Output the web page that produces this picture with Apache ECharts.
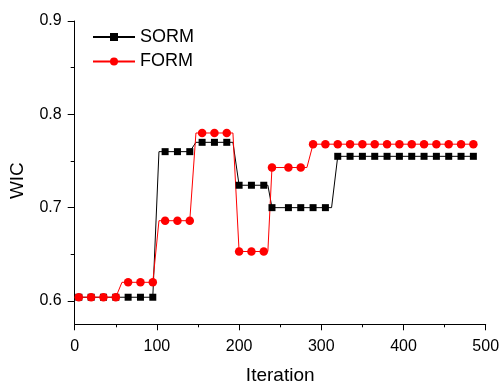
<!DOCTYPE html>
<html>
<head>
<meta charset="utf-8">
<script src="https://cdn.jsdelivr.net/npm/echarts@6/dist/echarts.min.js"></script>
<style>html,body{margin:0;padding:0;background:#fff;}#c{width:501px;height:384px;}</style>
</head>
<body>
<div id="c"></div>
<script>
// Iterations where markers are drawn
const markerIterations = [5,20,35,50,65,80,95,110,125,140,155,170,185,200,215,230,240,260,275,290,305,320,335,350,365,380,395,410,425,440,455,470,485];
// WIC values at the marker iterations
const sormValues = [0.604,0.604,0.604,0.604,0.604,0.604,0.604,0.760,0.760,0.760,0.770,0.770,0.770,0.724,0.724,0.724,0.700,0.700,0.700,0.700,0.700,0.755,0.755,0.755,0.755,0.755,0.755,0.755,0.755,0.755,0.755,0.755,0.755];
const formValues = [0.604,0.604,0.604,0.604,0.620,0.620,0.620,0.686,0.686,0.686,0.780,0.780,0.780,0.653,0.653,0.653,0.743,0.743,0.743,0.768,0.768,0.768,0.768,0.768,0.768,0.768,0.768,0.768,0.768,0.768,0.768,0.768,0.768];
// Intermediate (unmarked) line vertices at the step changes
const sormStepIterations = [102.5,147.5,192.5,235,312.5];
const sormStepValues = [0.760,0.770,0.770,0.724,0.700];
const formStepIterations = [57.5,102.5,147.5,192.5,235,282.5];
const formStepValues = [0.620,0.686,0.780,0.780,0.653,0.743];
// Axis ticks
const xTicks = [0,100,200,300,400,500];
const yLabelValues = [0.6,0.7,0.8,0.9];
const yMinorValues = [0.65,0.75,0.85];

function buildData(markVals, stepIters, stepVals){
  const pts = markerIterations.map((x,i)=>({value:[x,markVals[i]]}));
  stepIters.forEach((x,i)=>pts.push({value:[x,stepVals[i]],symbol:'none'}));
  pts.sort((a,b)=>a.value[0]-b.value[0]);
  return pts;
}

const FONT = "'Liberation Sans', Arial, sans-serif";
const chart = echarts.init(document.getElementById('c'), null, {renderer:'canvas'});
chart.setOption({
  animation:false,
  backgroundColor:'#fff',
  grid:{left:74.7, right:15.3, top:21, bottom:59.7, containLabel:false, outerBoundsMode:'none'},
  legend:{
    orient:'vertical', left:87, top:23, itemWidth:42, itemHeight:10, itemGap:6.5,
    textStyle:{fontFamily:FONT, fontSize:18, color:'#000'},
    data:['SORM','FORM']
  },
  xAxis:{
    type:'value', min:0, max:500, interval:100,
    name:'Iteration', nameLocation:'middle', nameGap:42,
    nameTextStyle:{fontFamily:FONT, fontSize:19, color:'#000'},
    axisLine:{lineStyle:{color:'#000', width:1}},
    axisTick:{length:6, lineStyle:{color:'#000'}},
    minorTick:{show:true, splitNumber:2, length:3, lineStyle:{color:'#000'}},
    axisLabel:{fontFamily:FONT, fontSize:16, color:'#000', margin:14, formatter:v=>xTicks.includes(v)?String(v):''},
    splitLine:{show:false}
  },
  yAxis:[{
    type:'value', min:0.575, max:0.9,
    name:'WIC', nameLocation:'middle', nameGap:47,
    nameTextStyle:{fontFamily:FONT, fontSize:19, color:'#000', padding:[0,16,0,0]},
    axisLine:{show:true, lineStyle:{color:'#000', width:1}},
    axisTick:{show:true, length:7, customValues:yLabelValues, lineStyle:{color:'#000'}},
    axisLabel:{fontFamily:FONT, fontSize:16, color:'#000', margin:13, customValues:yLabelValues, formatter:v=>v.toFixed(1)},
    splitLine:{show:false}
  },{
    type:'value', min:0.575, max:0.9, position:'left',
    axisLine:{show:false},
    axisTick:{show:true, length:4, customValues:yMinorValues, lineStyle:{color:'#000'}},
    axisLabel:{show:false},
    splitLine:{show:false}
  }],
  series:[{
    name:'SORM', type:'line', yAxisIndex:0,
    symbol:'rect', symbolSize:7, showAllSymbol:true,
    lineStyle:{color:'#000', width:1}, itemStyle:{color:'#000'},
    data:buildData(sormValues, sormStepIterations, sormStepValues)
  },{
    name:'FORM', type:'line', yAxisIndex:0,
    symbol:'circle', symbolSize:8.5, showAllSymbol:true,
    lineStyle:{color:'#ff0000', width:1}, itemStyle:{color:'#ff0000'},
    data:buildData(formValues, formStepIterations, formStepValues)
  }]
});
</script>
</body>
</html>
